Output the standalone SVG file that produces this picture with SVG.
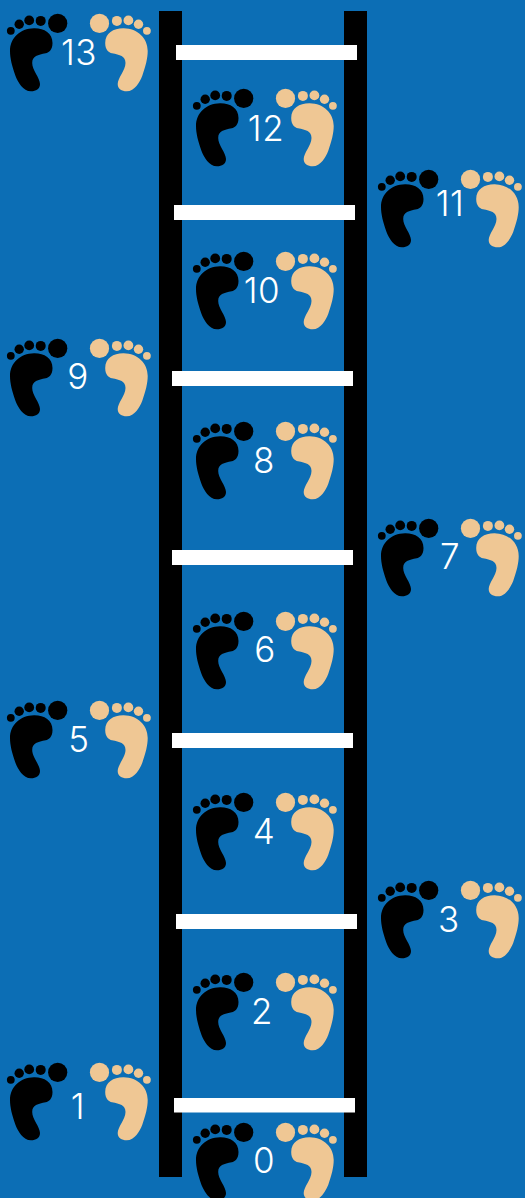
<svg xmlns="http://www.w3.org/2000/svg" width="525" height="1198" viewBox="0 0 525 1198">
<style>
.rail{fill:#000}
.rung{fill:#fff}
.l{fill:#000}
.r{fill:#efc794}
text{fill:#fff;font-family:"Inter","Open Sans","Liberation Sans",sans-serif;font-size:35px;font-weight:300;letter-spacing:.6px;text-anchor:middle}
</style>
<defs>
<g id="feet">
<g class="l"><circle cx="57.7" cy="23.4" r="9.6"/><circle cx="40.7" cy="20.9" r="5"/><circle cx="29.2" cy="20.4" r="4.9"/><circle cx="19.2" cy="24.2" r="4.7"/><circle cx="10.8" cy="30.8" r="3.9"/><path d="M34,28.2 C44,28 52.5,33 52.5,43 C52.5,50 49,52.5 45.7,53.3 C38,55 32.2,56 32.2,63 C32.2,70 40,78 40,84 C40,89 36,91.3 31,91.3 C23,91.3 18,82 15.5,76 C12,66 10,58 10,51 C10,38 20,28.5 34,28.2 Z"/></g>
<g class="r"><circle cx="99.5" cy="23.4" r="9.6"/><circle cx="116.9" cy="20.9" r="5"/><circle cx="128.4" cy="20.4" r="4.9"/><circle cx="138.5" cy="24.2" r="4.7"/><circle cx="146.9" cy="30.8" r="3.9"/><path d="M123.7,28.2 C113.7,28 105.2,33 105.2,43 C105.2,50 108.7,52.5 112,53.3 C119.7,55 125.5,56 125.5,63 C125.5,70 117.7,78 117.7,84 C117.7,89 121.7,91.3 126.7,91.3 C134.7,91.3 139.7,82 142.2,76 C145.7,66 147.7,58 147.7,51 C147.7,38 137.7,28.5 123.7,28.2 Z"/></g>
</g>
</defs>
<rect width="525" height="1198" fill="#0c6eb5"/>
<g id="ladder">
<rect class="rail" x="159" y="11" width="23" height="1166"/>
<rect class="rail" x="344" y="11" width="23" height="1166"/>
<rect class="rung" x="176" y="45" width="181" height="15"/>
<rect class="rung" x="174" y="205" width="181" height="15"/>
<rect class="rung" x="172" y="371" width="181" height="15"/>
<rect class="rung" x="172" y="550" width="181" height="15"/>
<rect class="rung" x="172" y="733" width="181" height="15"/>
<rect class="rung" x="176" y="914" width="181" height="15"/>
<rect class="rung" x="174" y="1098" width="181" height="14.5"/>
</g>
<g id="step13"><use href="#feet"/><text x="79" y="65">13</text></g>
<g id="step12"><use href="#feet" x="186" y="75"/><text x="266" y="141">12</text></g>
<g id="step11"><use href="#feet" x="371" y="156"/><text x="450" y="216">11</text></g>
<g id="step10"><use href="#feet" x="186" y="238"/><text x="262" y="303">10</text></g>
<g id="step9"><use href="#feet" y="325"/><text x="78" y="389">9</text></g>
<g id="step8"><use href="#feet" x="186" y="408"/><text x="264" y="473">8</text></g>
<g id="step7"><use href="#feet" x="371" y="505"/><text x="450" y="569">7</text></g>
<g id="step6"><use href="#feet" x="186" y="598"/><text x="265" y="662">6</text></g>
<g id="step5"><use href="#feet" y="687"/><text x="79" y="752">5</text></g>
<g id="step4"><use href="#feet" x="186" y="779"/><text x="264" y="844">4</text></g>
<g id="step3"><use href="#feet" x="371" y="867"/><text x="449" y="932">3</text></g>
<g id="step2"><use href="#feet" x="186" y="959"/><text x="262" y="1024">2</text></g>
<g id="step1"><use href="#feet" y="1049"/><text x="78" y="1119">1</text></g>
<g id="step0"><use href="#feet" x="186" y="1109"/><text x="264" y="1173">0</text></g>
</svg>
